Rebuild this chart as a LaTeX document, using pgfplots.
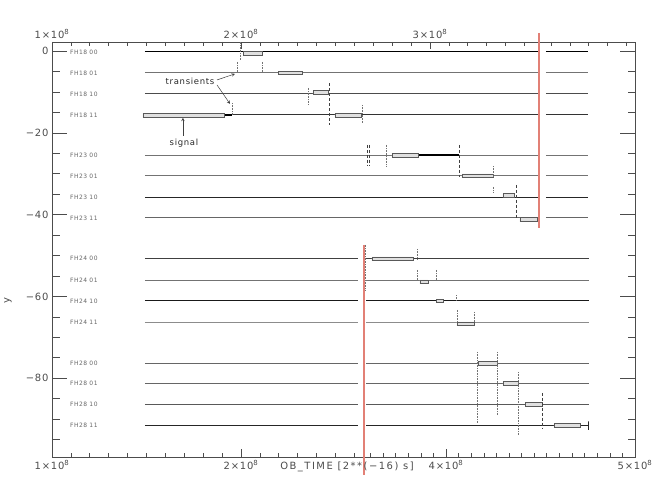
\documentclass[border=0pt]{standalone}
\usepackage{fontspec}
\setmainfont{DejaVu Sans}[LetterSpace=8]
\usepackage{pgfplots}
\pgfplotsset{compat=1.18}
\definecolor{cutred}{RGB}{226,128,118}

\pgfplotsset{
  base/.style={
    scale only axis, width=583bp, height=415bp,
    xmin=1, xmax=4.085, ymin=-99.3, ymax=2.25,
    axis line style={black!70, line width=0.6bp},
    tick style={black!70, line width=0.6bp},
    tick align=inside,
    tick label style={font=\fontsize{10}{12}\selectfont, text=black!70},
  },
}
\tikzset{
  sigbox/.style={draw=black!65, fill=black!12, line width=0.5bp},
  trans/.style={black!55, line width=0.6bp, densely dotted},
  transd/.style={black!75, line width=0.7bp, densely dashed},
  chlab/.style={anchor=west, font=\fontsize{6}{7}\selectfont, text=black!60, inner sep=0pt},
}

\begin{document}
\begin{tikzpicture}
\useasboundingbox (-52bp,-28bp) rectangle (612bp,457bp);

% bottom axis ticks
\begin{axis}[base, ytick=\empty,
  xtick={1,2,3.085,4.085},
  xticklabels={{1×10\textsuperscript{8}},{2×10\textsuperscript{8}},{4×10\textsuperscript{8}},{5×10\textsuperscript{8}}},
  minor xtick={1.1,1.2,1.3,1.4,1.5,1.6,1.7,1.8,1.9,2.1,2.2,2.3,2.4,2.5,2.6,
    2.685,2.752,2.818,2.885,2.952,3.018,3.152,3.218,3.285,3.352,3.418,3.485,
    3.552,3.618,3.685,3.752,3.818,3.885,3.952,4.018},
  xtick pos=left, major tick length=8bp, minor tick length=4bp]
\end{axis}

% top axis ticks
\begin{axis}[base, ytick=\empty,
  xtick={1,2,3},
  xticklabels={{1×10\textsuperscript{8}},{2×10\textsuperscript{8}},{3×10\textsuperscript{8}}},
  minor xtick={1.1,1.2,1.3,1.4,1.5,1.6,1.7,1.8,1.9,2.1,2.2,2.3,2.4,2.5,2.6,2.7,2.8,2.9,
    3.1,3.2,3.3,3.4,3.5,3.64,3.74,3.84,3.94,4.04},
  xticklabel pos=right, xtick pos=right, major tick length=7.5bp, minor tick length=4bp]
\end{axis}

% data and y axis
\begin{axis}[base, clip=false, xtick=\empty,
  ytick={0,-20,-40,-60,-80}, yticklabels={0,−20,−40,−60,−80},
  minor ytick={-5,-10,-15,-25,-30,-35,-45,-50,-55,-65,-70,-75,-85,-90,-95},
  yticklabel pos=left, ytick pos=both,
  major tick length=15bp, minor tick length=7.5bp,
  unbounded coords=jump]

% channel baselines, FH18 / FH23 (cut at the upper red line)
\addplot[black, line width=1.2bp] coordinates {(1.492,-0.17)(3.570,-0.17)(3.6,nan)(3.614,-0.17)(3.836,-0.17)};
\addplot[black!55, line width=0.8bp] coordinates {(1.492,-5.31)(3.570,-5.31)(3.6,nan)(3.614,-5.31)(3.836,-5.31)};
\addplot[black!70, line width=1.2bp] coordinates {(1.492,-10.45)(3.570,-10.45)(3.6,nan)(3.614,-10.45)(3.836,-10.45)};
\addplot[black!80, line width=1.0bp] coordinates {(1.492,-15.6)(3.570,-15.6)(3.6,nan)(3.614,-15.6)(3.836,-15.6)};
\addplot[black!55, line width=0.8bp] coordinates {(1.492,-25.4)(3.570,-25.4)(3.6,nan)(3.614,-25.4)(3.836,-25.4)};
\addplot[black!55, line width=0.8bp] coordinates {(1.492,-30.5)(3.570,-30.5)(3.6,nan)(3.614,-30.5)(3.836,-30.5)};
\addplot[black!85, line width=1.1bp] coordinates {(1.492,-35.7)(3.570,-35.7)(3.6,nan)(3.614,-35.7)(3.836,-35.7)};
\addplot[black!60, line width=0.9bp] coordinates {(1.492,-40.8)(3.570,-40.8)(3.6,nan)(3.614,-40.8)(3.836,-40.8)};
% channel baselines, FH24 / FH28 (cut at the lower red line)
\addplot[black!75, line width=1.0bp] coordinates {(1.492,-50.8)(2.619,-50.8)(2.64,nan)(2.662,-50.8)(3.841,-50.8)};
\addplot[black!55, line width=0.8bp] coordinates {(1.492,-56.0)(2.619,-56.0)(2.64,nan)(2.662,-56.0)(3.841,-56.0)};
\addplot[black!90, line width=1.2bp] coordinates {(1.492,-61.1)(2.619,-61.1)(2.64,nan)(2.662,-61.1)(3.841,-61.1)};
\addplot[black!45, line width=0.9bp] coordinates {(1.492,-66.3)(2.619,-66.3)(2.64,nan)(2.662,-66.3)(3.841,-66.3)};
\addplot[black!60, line width=0.9bp] coordinates {(1.492,-76.3)(2.619,-76.3)(2.64,nan)(2.662,-76.3)(3.841,-76.3)};
\addplot[black!60, line width=0.9bp] coordinates {(1.492,-81.2)(2.619,-81.2)(2.64,nan)(2.662,-81.2)(3.841,-81.2)};
\addplot[black!65, line width=1.0bp] coordinates {(1.492,-86.4)(2.619,-86.4)(2.64,nan)(2.662,-86.4)(3.841,-86.4)};
\addplot[black!85, line width=0.9bp] coordinates {(1.492,-91.6)(2.619,-91.6)(2.64,nan)(2.662,-91.6)(3.841,-91.6)(3.841,-90.6)(3.841,-92.6)};
% stretches where the signal sits on a channel
\addplot[black, line width=1.3bp] coordinates {(1.910,-15.6)(1.952,-15.6)(1.96,nan)(2.937,-25.4)(3.153,-25.4)};

% signal boxes
\addplot[sigbox] coordinates {(1.481,-16.05)(1.910,-16.05)(1.910,-15.15)(1.481,-15.15)(1.481,-16.05)};
\addplot[sigbox] coordinates {(2.011,-0.95)(2.111,-0.95)(2.111,-0.05)(2.011,-0.05)(2.011,-0.95)};
\addplot[sigbox] coordinates {(2.196,-5.76)(2.323,-5.76)(2.323,-4.86)(2.196,-4.86)(2.196,-5.76)};
\addplot[sigbox] coordinates {(2.381,-10.55)(2.460,-10.55)(2.460,-9.65)(2.381,-9.65)(2.381,-10.55)};
\addplot[sigbox] coordinates {(2.497,-16.05)(2.635,-16.05)(2.635,-15.15)(2.497,-15.15)(2.497,-16.05)};
\addplot[sigbox] coordinates {(2.799,-25.85)(2.937,-25.85)(2.937,-24.95)(2.799,-24.95)(2.799,-25.85)};
\addplot[sigbox] coordinates {(3.169,-30.95)(3.333,-30.95)(3.333,-30.05)(3.169,-30.05)(3.169,-30.95)};
\addplot[sigbox] coordinates {(3.386,-35.75)(3.444,-35.75)(3.444,-34.85)(3.386,-34.85)(3.386,-35.75)};
\addplot[sigbox] coordinates {(3.476,-41.65)(3.568,-41.65)(3.568,-40.75)(3.476,-40.75)(3.476,-41.65)};
\addplot[sigbox] coordinates {(2.693,-51.25)(2.910,-51.25)(2.910,-50.35)(2.693,-50.35)(2.693,-51.25)};
\addplot[sigbox] coordinates {(2.947,-56.85)(2.989,-56.85)(2.989,-55.95)(2.947,-55.95)(2.947,-56.85)};
\addplot[sigbox] coordinates {(3.032,-61.55)(3.069,-61.55)(3.069,-60.65)(3.032,-60.65)(3.032,-61.55)};
\addplot[sigbox] coordinates {(3.143,-67.15)(3.233,-67.15)(3.233,-66.25)(3.143,-66.25)(3.143,-67.15)};
\addplot[sigbox] coordinates {(3.254,-76.75)(3.354,-76.75)(3.354,-75.85)(3.254,-75.85)(3.254,-76.75)};
\addplot[sigbox] coordinates {(3.386,-81.65)(3.466,-81.65)(3.466,-80.75)(3.386,-80.75)(3.386,-81.65)};
\addplot[sigbox] coordinates {(3.503,-86.85)(3.593,-86.85)(3.593,-85.95)(3.503,-85.95)(3.503,-86.85)};
\addplot[sigbox] coordinates {(3.656,-92.05)(3.794,-92.05)(3.794,-91.15)(3.656,-91.15)(3.656,-92.05)};

% transients
\addplot[trans] coordinates {
(1.952,-12.66)(1.952,-15.6)(1.96,nan)
(1.995,2.28)(1.995,-2.13)(2.0,nan)
(1.979,-2.62)(1.979,-5.31)(1.98,nan)
(2.111,-2.62)(2.111,-5.31)(2.12,nan)
(2.354,-8.98)(2.354,-13.15)(2.36,nan)
(2.640,-13.15)(2.640,-17.6)(2.65,nan)
(2.767,-22.9)(2.767,-28.1)(2.77,nan)
(3.333,-28.1)(3.333,-30.8)(3.34,nan)
(3.333,-33.2)(3.333,-34.7)(3.34,nan)
(2.931,-48.4)(2.931,-50.8)(2.94,nan)
(2.931,-53.5)(2.931,-56.0)(2.94,nan)
(3.032,-53.5)(3.032,-56.0)(3.04,nan)
(3.138,-59.7)(3.138,-61.1)(3.14,nan)
(3.143,-63.3)(3.143,-66.3)(3.15,nan)
(3.233,-63.8)(3.233,-66.3)(3.24,nan)
(3.249,-73.6)(3.249,-91.0)(3.25,nan)
(3.354,-73.6)(3.354,-89.0)(3.36,nan)
(3.466,-78.5)(3.466,-93.9)(3.47,nan)
(2.660,-47.4)(2.660,-58.4)
};
\addplot[transd] coordinates {
(2.466,-7.76)(2.466,-18.1)(2.47,nan)
(2.667,-22.9)(2.667,-28.1)(2.67,nan)
(2.677,-22.9)(2.677,-28.1)(2.68,nan)
(3.153,-22.9)(3.153,-30.8)(3.16,nan)
(3.455,-32.7)(3.455,-40.8)(3.46,nan)
(3.593,-83.6)(3.593,-92.2)
};

% axis cuts
\addplot[cutred, line width=1.3bp] coordinates {(3.5775,4.48)(3.5775,-43.2)};
\addplot[cutred, line width=1.1bp] coordinates {(2.651,-47.4)(2.651,-103.7)};

% channel names
\node[chlab] at (axis cs:1.095,-0.17) {FH18 00};
\node[chlab] at (axis cs:1.095,-5.31) {FH18 01};
\node[chlab] at (axis cs:1.095,-10.45) {FH18 10};
\node[chlab] at (axis cs:1.095,-15.6) {FH18 11};
\node[chlab] at (axis cs:1.095,-25.4) {FH23 00};
\node[chlab] at (axis cs:1.095,-30.5) {FH23 01};
\node[chlab] at (axis cs:1.095,-35.7) {FH23 10};
\node[chlab] at (axis cs:1.095,-40.8) {FH23 11};
\node[chlab] at (axis cs:1.095,-50.8) {FH24 00};
\node[chlab] at (axis cs:1.095,-56.0) {FH24 01};
\node[chlab] at (axis cs:1.095,-61.1) {FH24 10};
\node[chlab] at (axis cs:1.095,-66.3) {FH24 11};
\node[chlab] at (axis cs:1.095,-76.3) {FH28 00};
\node[chlab] at (axis cs:1.095,-81.2) {FH28 01};
\node[chlab] at (axis cs:1.095,-86.4) {FH28 10};
\node[chlab] at (axis cs:1.095,-91.6) {FH28 11};

% annotations
\node[font=\fontsize{8.5}{10}\selectfont, text=black!85] at (axis cs:1.730,-7.5) {transients};
\draw[-stealth, black!75, line width=0.5bp] (axis cs:1.873,-7.03) -- (axis cs:1.968,-5.56);
\draw[-stealth, black!75, line width=0.5bp] (axis cs:1.873,-8.25) -- (axis cs:1.942,-12.9);
\node[font=\fontsize{8.5}{10}\selectfont, text=black!85] at (axis cs:1.698,-22.45) {signal};
\draw[-stealth, black!75, line width=0.5bp] (axis cs:1.693,-20.7) -- (axis cs:1.693,-16.3);

% axis titles
\node[font=\fontsize{10}{12}\selectfont\addfontfeatures{LetterSpace=15}, text=black!70] at ([yshift=-10bp]axis cs:2.561,-99.3) {OB\_TIME [2**(−16) s]};
\node[font=\fontsize{10}{12}\selectfont, text=black!70, rotate=90] at ([xshift=-44bp]rel axis cs:0,0.378) {y};
\end{axis}
\end{tikzpicture}
\end{document}
